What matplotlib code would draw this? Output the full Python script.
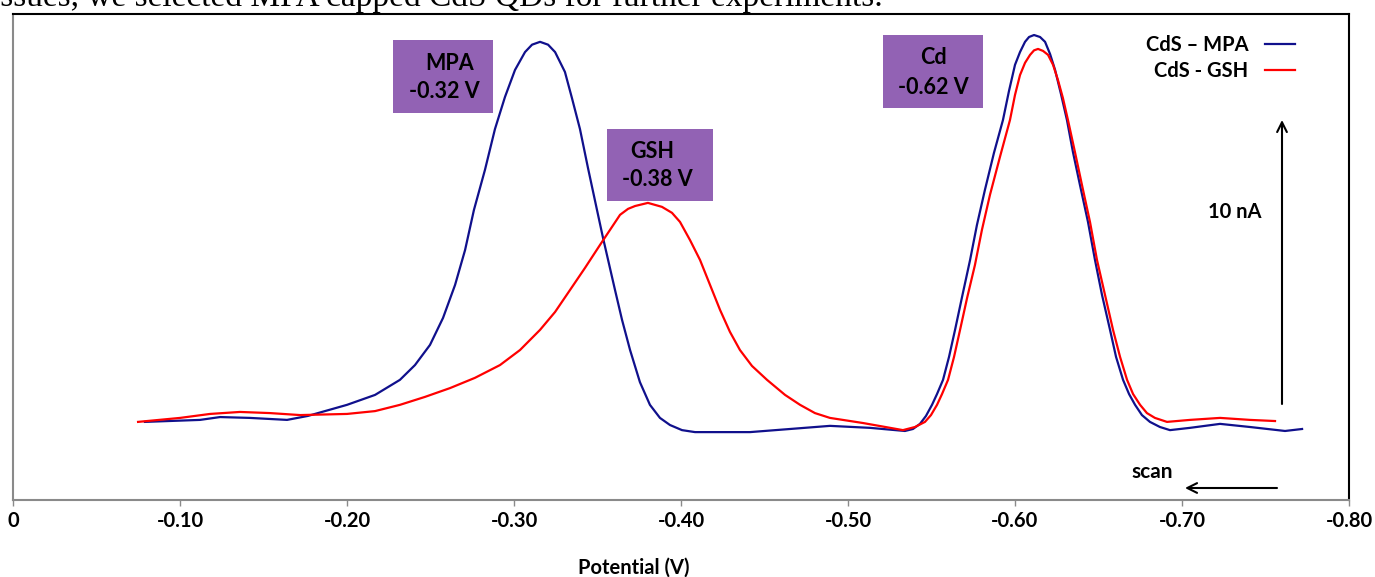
import matplotlib
matplotlib.use("Agg")
import matplotlib.pyplot as plt
from matplotlib.patches import Rectangle
from matplotlib.lines import Line2D
from matplotlib.ticker import FixedLocator, FuncFormatter

# ---- data (potential in V, current in nA) ----
mpa_potential = [-0.0790, -0.1120, -0.1240, -0.1419, -0.1641, -0.1766, -0.2000, -0.2168,
                 -0.2317, -0.2407, -0.2497, -0.2575, -0.2647, -0.2707, -0.2760, -0.2826,
                 -0.2886, -0.2946, -0.3006, -0.3066, -0.3108, -0.3156, -0.3204, -0.3246,
                 -0.3305, -0.3347, -0.3395, -0.3443, -0.3497, -0.3533, -0.3605, -0.3647,
                 -0.3695, -0.3754, -0.3814, -0.3874, -0.3934, -0.4006, -0.4084, -0.4413,
                 -0.4653, -0.4892, -0.5132, -0.5341, -0.5389, -0.5431, -0.5467, -0.5503,
                 -0.5533, -0.5569, -0.5605, -0.5641, -0.5683, -0.5731, -0.5772, -0.5820,
                 -0.5874, -0.5928, -0.5964, -0.6000, -0.6030, -0.6060, -0.6084, -0.6114,
                 -0.6150, -0.6180, -0.6210, -0.6240, -0.6275, -0.6311, -0.6347, -0.6389,
                 -0.6437, -0.6479, -0.6521, -0.6569, -0.6605, -0.6647, -0.6683, -0.6719,
                 -0.6760, -0.6808, -0.6868, -0.6928, -0.7048, -0.7228, -0.7407, -0.7617,
                 -0.7719]
mpa_current = [2.75, 2.82, 2.92, 2.89, 2.82, 2.96, 3.35, 3.70,
               4.23, 4.75, 5.46, 6.41, 7.57, 8.80, 10.21, 11.62,
               13.06, 14.19, 15.14, 15.77, 16.03, 16.13, 16.03, 15.77,
               15.07, 14.15, 13.06, 11.69, 10.21, 9.23, 7.39, 6.34,
               5.28, 4.15, 3.35, 2.89, 2.64, 2.46, 2.39, 2.39,
               2.50, 2.61, 2.54, 2.43, 2.50, 2.68, 2.96, 3.35,
               3.73, 4.23, 5.04, 5.99, 7.15, 8.45, 9.68, 10.92,
               12.22, 13.38, 14.40, 15.32, 15.77, 16.13, 16.30, 16.37,
               16.30, 16.13, 15.70, 15.14, 14.30, 13.38, 12.25, 11.09,
               9.79, 8.45, 7.22, 5.99, 5.04, 4.23, 3.73, 3.35,
               2.99, 2.75, 2.57, 2.46, 2.54, 2.68, 2.57, 2.43,
               2.50]

gsh_potential = [-0.0749, -0.1000, -0.1180, -0.1359, -0.1539, -0.1719, -0.2000, -0.2168,
                 -0.2317, -0.2467, -0.2617, -0.2766, -0.2916, -0.3036, -0.3156, -0.3246,
                 -0.3335, -0.3425, -0.3515, -0.3575, -0.3635, -0.3683, -0.3725, -0.3802,
                 -0.3886, -0.3946, -0.3994, -0.4054, -0.4114, -0.4174, -0.4234, -0.4293,
                 -0.4353, -0.4425, -0.4515, -0.4623, -0.4713, -0.4802, -0.4892, -0.5090,
                 -0.5329, -0.5401, -0.5461, -0.5497, -0.5533, -0.5563, -0.5599, -0.5635,
                 -0.5671, -0.5713, -0.5760, -0.5802, -0.5850, -0.5910, -0.5970, -0.6000,
                 -0.6030, -0.6060, -0.6090, -0.6114, -0.6138, -0.6168, -0.6198, -0.6228,
                 -0.6257, -0.6287, -0.6317, -0.6359, -0.6401, -0.6449, -0.6491, -0.6539,
                 -0.6587, -0.6629, -0.6671, -0.6707, -0.6749, -0.6790, -0.6838, -0.6910,
                 -0.7048, -0.7228, -0.7407, -0.7557]
gsh_current = [2.75, 2.89, 3.03, 3.10, 3.06, 2.99, 3.03, 3.13,
               3.35, 3.63, 3.94, 4.30, 4.75, 5.28, 5.99, 6.62,
               7.39, 8.17, 8.98, 9.51, 10.04, 10.25, 10.35, 10.46,
               10.32, 10.11, 9.79, 9.15, 8.45, 7.57, 6.69, 5.92,
               5.28, 4.72, 4.23, 3.70, 3.35, 3.06, 2.89, 2.71,
               2.46, 2.57, 2.75, 2.99, 3.35, 3.73, 4.23, 5.04,
               5.99, 7.11, 8.27, 9.51, 10.74, 12.08, 13.38, 14.26,
               14.96, 15.39, 15.67, 15.83, 15.88, 15.81, 15.67, 15.32,
               14.79, 14.15, 13.38, 12.25, 11.09, 9.79, 8.45, 7.22,
               5.99, 5.04, 4.23, 3.73, 3.35, 3.06, 2.89, 2.75,
               2.82, 2.89, 2.82, 2.78]

x_ticks = [0.0, -0.10, -0.20, -0.30, -0.40, -0.50, -0.60, -0.70, -0.80]
series_labels = ["CdS \u2013 MPA", "CdS - GSH"]
peak_boxes = [("MPA", "-0.32 V"), ("GSH", "-0.38 V"), ("Cd", "-0.62 V")]

BLUE = "#10108c"
RED = "#ff0000"
PURPLE = "#9262b4"
FONT = "Lato"

W, H = 1375, 577
fig = plt.figure(figsize=(W / 100, H / 100), dpi=100)
L, R, T, B = 13, 1349, 14, 500
ax = fig.add_axes([L / W, (H - B) / H, (R - L) / W, (B - T) / H])

ax.plot(mpa_potential, mpa_current, color=BLUE, lw=1.6, solid_joinstyle="round")
ax.plot(gsh_potential, gsh_current, color=RED, lw=1.6, solid_joinstyle="round")

ax.set_xlim(0, -0.80)
ax.set_ylim(0, 17.11)

for s in ("left", "bottom"):
    ax.spines[s].set_color("#8a8a8a")
    ax.spines[s].set_linewidth(1.5)
for s in ("top", "right"):
    ax.spines[s].set_color("black")
    ax.spines[s].set_linewidth(1.5)

ax.xaxis.set_major_locator(FixedLocator(x_ticks))
ax.xaxis.set_major_formatter(FuncFormatter(lambda v, p: "0" if abs(v) < 1e-9 else f"{v:.2f}"))
ax.tick_params(axis="x", direction="out", length=4, width=1, color="#8a8a8a", pad=4,
               labelsize=14.5)
for lab in ax.get_xticklabels():
    lab.set_fontfamily(FONT)
    lab.set_fontweight("bold")
ax.set_yticks([])


def fx(px):
    return (px - L) / (R - L)


def fy(py):
    return (B - py) / (B - T)


ax.set_xlabel("Potential (V)", fontfamily=FONT, fontweight="bold", fontsize=14.5)
ax.xaxis.set_label_coords(fx(634), fy(568))
ax.xaxis.label.set_va("center")

# peak annotation boxes (pixel layout -> axes fraction)
box_geo = [(393, 493, 40, 113, (450, 63), (444, 92)),
           (607, 713, 129, 201, (652, 152), (657, 180)),
           (883, 983, 35, 108, (933, 58), (933, 87))]
for (name, pot), (x0, x1, y0, y1, p1, p2) in zip(peak_boxes, box_geo):
    ax.add_patch(Rectangle((fx(x0), fy(y1)), fx(x1) - fx(x0), fy(y0) - fy(y1),
                           transform=ax.transAxes, facecolor=PURPLE, edgecolor="none",
                           zorder=3))
    ax.text(fx(p1[0]), fy(p1[1]), name, transform=ax.transAxes, ha="center", va="center",
            fontfamily=FONT, fontweight="bold", fontsize=15.5, zorder=4)
    ax.text(fx(p2[0]), fy(p2[1]), pot, transform=ax.transAxes, ha="center", va="center",
            fontfamily=FONT, fontweight="bold", fontsize=15.5, zorder=4)

# legend
handles = [Line2D([], [], color=BLUE, lw=1.6), Line2D([], [], color=RED, lw=1.6)]
leg = ax.legend(handles, series_labels, loc="upper left",
                bbox_to_anchor=(fx(1146), fy(35)), frameon=False, markerfirst=False,
                handlelength=1.5, handletextpad=0.8, labelspacing=0.3,
                borderpad=0, borderaxespad=0,
                prop={"family": FONT, "weight": "bold", "size": 14.5})

# 10 nA scale arrow
ax.annotate("", xy=(fx(1282), fy(120)), xytext=(fx(1282), fy(404)),
            xycoords="axes fraction", textcoords="axes fraction",
            arrowprops=dict(arrowstyle="->,head_length=0.7,head_width=0.35",
                            color="black", lw=1.5, shrinkA=0, shrinkB=0))
ax.text(fx(1235), fy(212), "10 nA", transform=ax.transAxes, ha="center", va="center",
        fontfamily=FONT, fontweight="bold", fontsize=14.5)

# scan direction arrow
ax.annotate("", xy=(fx(1185), fy(488)), xytext=(fx(1277), fy(488)),
            xycoords="axes fraction", textcoords="axes fraction",
            arrowprops=dict(arrowstyle="->,head_length=0.7,head_width=0.35",
                            color="black", lw=1.5, shrinkA=0, shrinkB=0))
ax.text(fx(1152), fy(472), "scan", transform=ax.transAxes, ha="center", va="center",
        fontfamily=FONT, fontweight="bold", fontsize=15)

# cropped document text line at the top
fig.text(-9 / W, (H - 6) / H, "issues, we selected MPA capped CdS QDs for further experiments.",
         fontfamily="Liberation Serif", fontsize=24, ha="left", va="baseline")

fig.savefig("out.png", dpi=100)
